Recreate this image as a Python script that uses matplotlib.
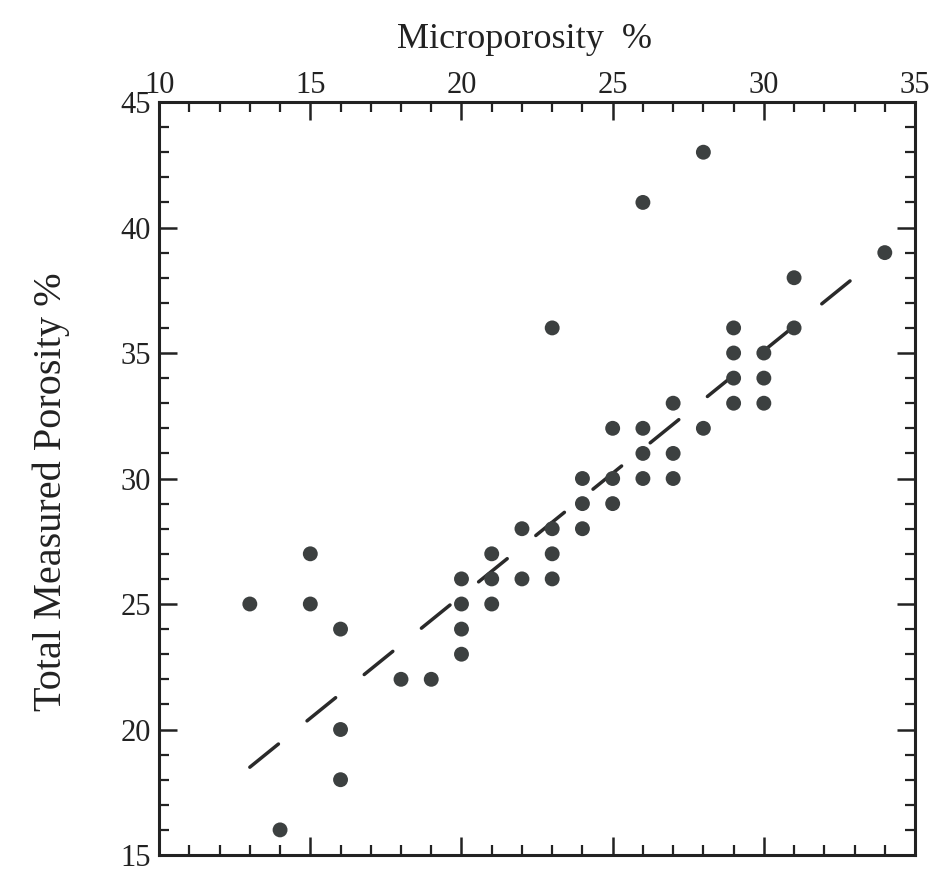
import matplotlib
matplotlib.use("Agg")
import matplotlib.pyplot as plt
from matplotlib.ticker import MultipleLocator
import numpy as np

plt.rcParams['font.family'] = ['Liberation Serif', 'DejaVu Serif']
plt.rcParams['lines.scale_dashes'] = False

# Microporosity (%) and total measured porosity (%) of the samples
micro = [13, 14, 15, 15, 16, 16, 16, 18, 19,
         20, 20, 20, 20, 21, 21, 21, 22, 22,
         23, 23, 23, 23, 24, 24, 24, 25, 25, 25,
         26, 26, 26, 26, 27, 27, 27, 28, 28,
         29, 29, 29, 29, 30, 30, 30, 31, 31, 34]
total = [25, 16, 27, 25, 24, 20, 18, 22, 22,
         26, 25, 24, 23, 27, 26, 25, 28, 26,
         36, 28, 27, 26, 30, 29, 28, 32, 30, 29,
         41, 32, 31, 30, 33, 31, 30, 43, 32,
         36, 35, 34, 33, 35, 34, 33, 38, 36, 39]

# Fitted trend line
fit_slope = 0.976
fit_intercept = 5.81
fit_x = [13.0, 32.85]

x_ticks = [10, 15, 20, 25, 30, 35]
y_ticks = [15, 20, 25, 30, 35, 40, 45]

fig = plt.figure(figsize=(9.36, 8.72), dpi=100)
ax = fig.add_axes([0.170, 0.0195, 0.8076, 0.8635])

ink = '#3c4040'
fx = np.array(fit_x)
ax.plot(fx, fit_slope * fx + fit_intercept, color='#2a2a2a', lw=2.5,
        dashes=(26.5, 26.5), solid_capstyle='round', dash_capstyle='round', zorder=2)
ax.scatter(micro, total, s=115, color=ink, edgecolors='none', zorder=3)

ax.set_xlim(10, 35)
ax.set_ylim(15, 45)
ax.set_xticks(x_ticks)
ax.set_yticks(y_ticks)
ax.xaxis.set_minor_locator(MultipleLocator(1))
ax.yaxis.set_minor_locator(MultipleLocator(1))

for sp in ax.spines.values():
    sp.set_linewidth(2.2)
    sp.set_color('#222222')

ax.tick_params(which='both', direction='in', top=True, bottom=True, left=True, right=True,
               labeltop=True, labelbottom=False, labelleft=True, labelright=False,
               color='#222222')
ax.tick_params(which='major', length=13, width=1.8, labelsize=22, pad=6, labelcolor='#222222')
ax.tick_params(axis='x', which='major', pad=1.5)
ax.tick_params(which='minor', length=7, width=1.6)

ax.xaxis.set_label_position('top')
ax.set_xlabel('Microporosity  %', fontsize=26, color='#222222')
ax.xaxis.set_label_coords(0.484, 1.0717)
ax.set_ylabel('Total Measured Porosity %', fontsize=29, color='#222222')
ax.yaxis.set_label_coords(-0.118, 0.483)

fig.savefig('out.png', dpi=100, facecolor='white')
